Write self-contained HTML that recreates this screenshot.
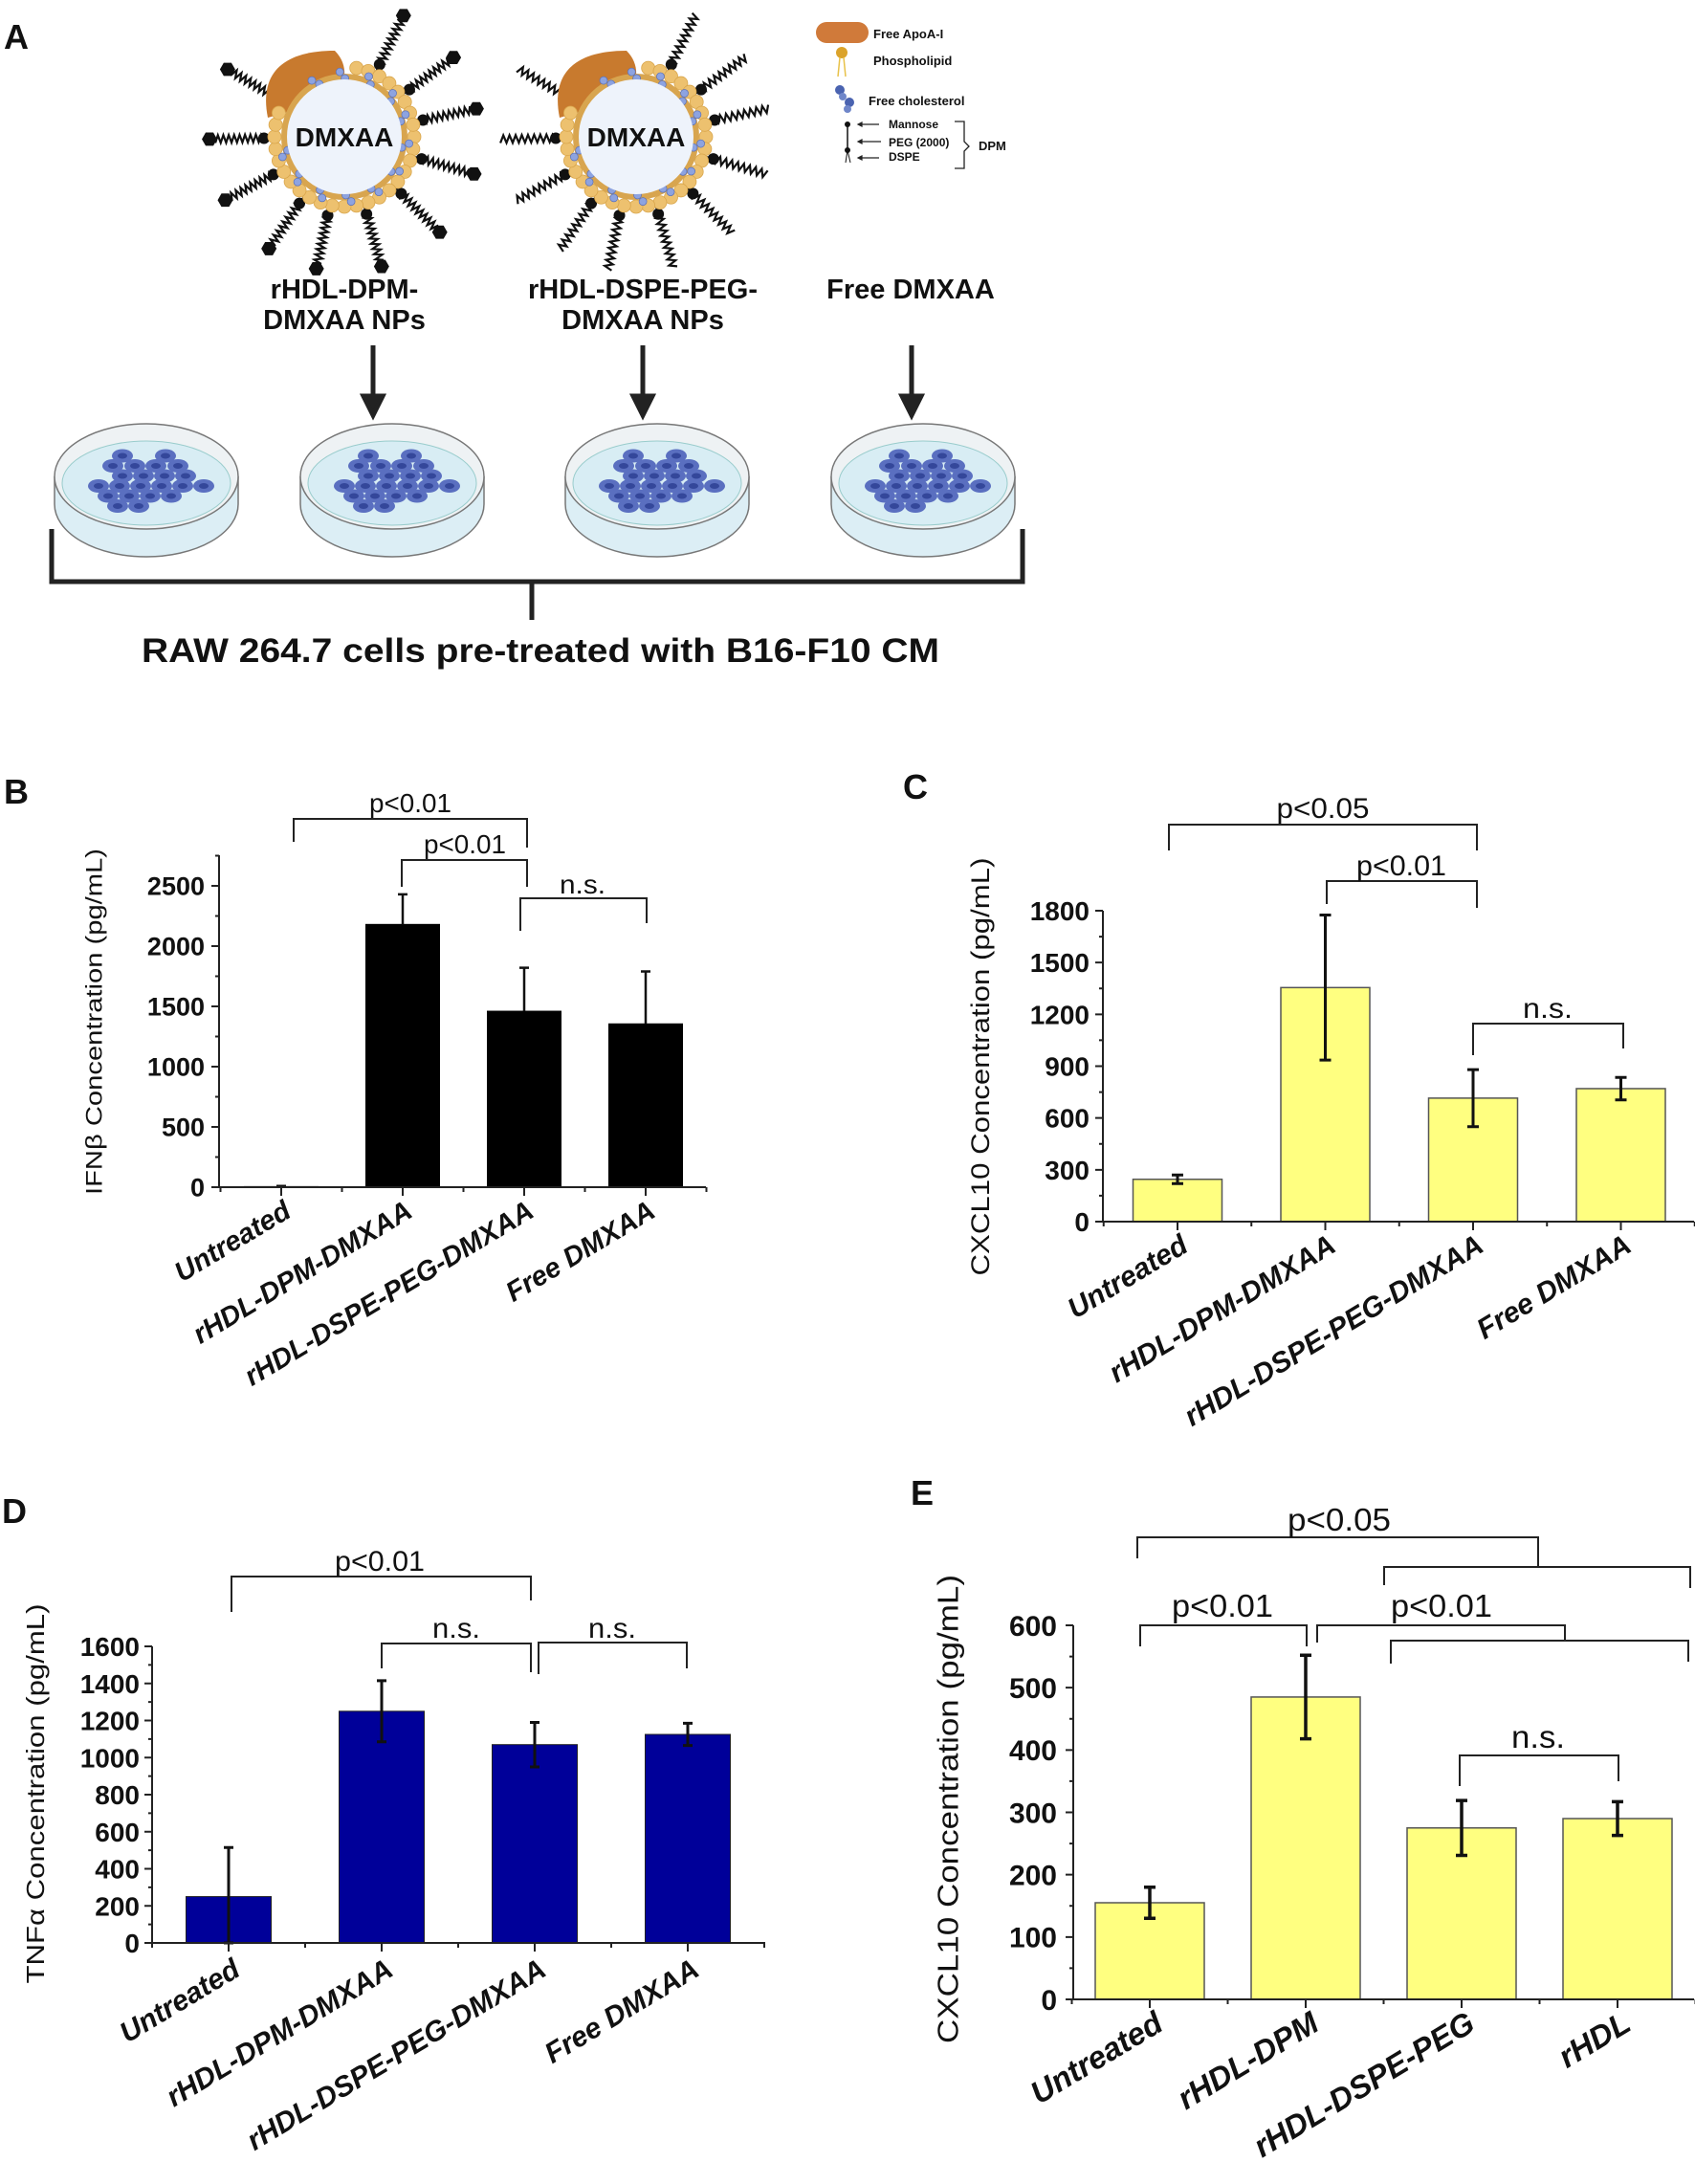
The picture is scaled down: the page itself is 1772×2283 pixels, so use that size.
<!DOCTYPE html>
<html><head><meta charset="utf-8">
<style>
html,body{margin:0;padding:0;background:#fff;}
svg{display:block;font-family:"Liberation Sans",Arial,sans-serif;}
</style></head>
<body>
<svg id="fig" width="1772" height="2283" viewBox="0 0 1772 2283" xmlns="http://www.w3.org/2000/svg">
<rect x="0" y="0" width="1772" height="2283" fill="#fff"/>
<g id="panelA">
  <text x="4" y="51" font-size="36" font-weight="bold" fill="#111">A</text>
  <g id="nps"></g>
  <text x="360" y="312" font-size="29" font-weight="bold" text-anchor="middle" fill="#111">rHDL-DPM-</text>
  <text x="360" y="344" font-size="29" font-weight="bold" text-anchor="middle" fill="#111">DMXAA NPs</text>
  <text x="672" y="312" font-size="29" font-weight="bold" text-anchor="middle" fill="#111">rHDL-DSPE-PEG-</text>
  <text x="672" y="344" font-size="29" font-weight="bold" text-anchor="middle" fill="#111">DMXAA NPs</text>
  <text x="952" y="312" font-size="29" font-weight="bold" text-anchor="middle" fill="#111">Free DMXAA</text>
  <g id="arrows"></g>
  <g id="dishes"></g>
  <path d="M54,553 V608 H1069 V553 M556,608 V648" fill="none" stroke="#222" stroke-width="5"/>
  <text x="565" y="692" font-size="35" font-weight="bold" text-anchor="middle" fill="#111" textLength="834" lengthAdjust="spacingAndGlyphs">RAW 264.7 cells pre-treated with B16-F10 CM</text>
  <g id="legendA">
    <rect x="853" y="23" width="55" height="22" rx="11" fill="#d07a3a"/>
    <text x="913" y="40" font-size="13" font-weight="bold" fill="#111">Free ApoA-I</text>
    <circle cx="880" cy="55" r="6" fill="#dba32b"/>
    <path d="M878,60 L876,80 M882,60 L884,80" stroke="#e8c24a" stroke-width="1.5" fill="none"/>
    <text x="913" y="68" font-size="13" font-weight="bold" fill="#111">Phospholipid</text>
    <circle cx="878" cy="94" r="5" fill="#4a63b0"/><circle cx="881" cy="101" r="4" fill="#6f86c9"/><circle cx="888" cy="107" r="5" fill="#4a63b0"/><circle cx="886" cy="114" r="4" fill="#6f86c9"/>
    <text x="908" y="110" font-size="13" font-weight="bold" fill="#111">Free cholesterol</text>
    <circle cx="886" cy="130" r="3" fill="#111"/><path d="M886,130 V157" stroke="#111" stroke-width="1.5"/><circle cx="886" cy="157" r="3" fill="#111"/>
    <path d="M886,157 L884,170 M886,157 L889,170" stroke="#111" stroke-width="1"/>
    <path d="M919,130 H897 M897,130 l4,-2 v4 z M921,148 H897 M897,148 l4,-2 v4 z M919,165 H897 M897,165 l4,-2 v4 z" stroke="#222" stroke-width="1.2" fill="#222"/>
    <text x="929" y="134" font-size="12" font-weight="bold" fill="#111">Mannose</text>
    <text x="929" y="153" font-size="12" font-weight="bold" fill="#111">PEG (2000)</text>
    <text x="929" y="168" font-size="12" font-weight="bold" fill="#111">DSPE</text>
    <path d="M998,127 H1008 V148 L1013,153 L1008,158 V176 H998" fill="none" stroke="#222" stroke-width="1.3"/>
    <text x="1023" y="157" font-size="13" font-weight="bold" fill="#111">DPM</text>
  </g>
</g>
<g id="charts"></g>
</svg>
<script>
// ---------- chart data ----------
const bCats=["Untreated","rHDL-DPM-DMXAA","rHDL-DSPE-PEG-DMXAA","Free DMXAA"];
const bVals=[5,2180,1460,1355];
const bErr=[5,250,360,435];
const bTicks=[0,500,1000,1500,2000,2500];

const cCats=["Untreated","rHDL-DPM-DMXAA","rHDL-DSPE-PEG-DMXAA","Free DMXAA"];
const cVals=[245,1355,715,770];
const cErr=[25,420,165,65];
const cTicks=[0,300,600,900,1200,1500,1800];

const dCats=["Untreated","rHDL-DPM-DMXAA","rHDL-DSPE-PEG-DMXAA","Free DMXAA"];
const dVals=[250,1250,1070,1125];
const dErr=[265,165,120,60];
const dTicks=[0,200,400,600,800,1000,1200,1400,1600];

const eCats=["Untreated","rHDL-DPM","rHDL-DSPE-PEG","rHDL"];
const eVals=[155,485,275,290];
const eErr=[25,67,44,27];
const eTicks=[0,100,200,300,400,500,600];

const NS="http://www.w3.org/2000/svg";
function mk(tag,attrs,parent){const e=document.createElementNS(NS,tag);for(const k in attrs)e.setAttribute(k,attrs[k]);if(parent)parent.appendChild(e);return e;}

function drawChart(o,cats,vals,errs,ticks){
  const g=mk('g',{},document.getElementById('charts'));
  
  
  const maxT=ticks[ticks.length-1];
  const y=v=>o.y0-(v/maxT)*(o.y0-o.yMaxPx);
  const x=i=>o.c0+i*o.sp;
  cats.forEach((c,i)=>{
    const r=mk('rect',{x:x(i)-o.bw/2,y:y(vals[i]),width:o.bw,height:o.y0-y(vals[i]),fill:o.fill,stroke:o.stroke,'stroke-width':o.sw},g);
    
    
  });
  cats.forEach((c,i)=>{
    const top=y(vals[i]+errs[i]);
    const bot=o.upOnly?y(vals[i]):y(Math.max(0,vals[i]-errs[i]));
    const p=mk('path',{d:`M${x(i)},${bot} V${top} M${x(i)-o.cap},${top} H${x(i)+o.cap}`+(o.upOnly?'':` M${x(i)-o.cap},${bot} H${x(i)+o.cap}`),stroke:'#111','stroke-width':o.ew,fill:'none'},g);
    
    
  });
  const ax=mk('path',{d:`M${o.x0},${o.axTop} V${o.y0} H${o.xEnd}`,stroke:'#222','stroke-width':2,fill:'none'},g);
  
  
  let td='';
  ticks.forEach(t=>{td+=`M${o.x0-8},${y(t)} H${o.x0}`;});
  const step=ticks[1]-ticks[0];
  for(let v=step/2;v<=o.axTopVal;v+=step){td+=`M${o.x0-4},${y(v)} H${o.x0}`;}
  cats.forEach((c,i)=>{td+=`M${x(i)},${o.y0} v9 M${x(i)+o.sp/2},${o.y0} v5`;});
  td+=`M${x(0)-o.sp/2},${o.y0} v5`;
  mk('path',{d:td,stroke:'#222','stroke-width':2,fill:'none'},g);
  ticks.forEach(t=>{
    const tx=mk('text',{x:o.x0-o.tgap,y:y(t)+o.tfs*0.36,'font-size':o.tfs,'font-weight':'bold','text-anchor':'end',fill:'#111'},g);
    tx.textContent=t;
    
    
  });
  cats.forEach((c,i)=>{
    const tx=mk('text',{transform:`translate(${x(i)+o.lx},${o.y0+o.ly}) rotate(-31)`,'font-size':o.lfs,'font-weight':'bold','font-style':'italic','text-anchor':'end',fill:'#111'},g);
    tx.textContent=c;
    
    
  });
  const yt=mk('text',{transform:`translate(${o.ytx},${o.yty}) rotate(-90)`,'font-size':o.ytfs,'text-anchor':'middle','dominant-baseline':'central',fill:'#111',textLength:o.ytl,lengthAdjust:'spacingAndGlyphs'},g);
  yt.textContent=o.ytitle;
  
  
  const pl=mk('text',{x:o.plx,y:o.ply,'font-size':36,'font-weight':'bold',fill:'#111'},g);
  pl.textContent=o.label;
  
  
  o.br.forEach(b=>{
    const p=mk('path',{d:b.d,stroke:'#222','stroke-width':2,fill:'none'},g);
    
    
    const t=mk('text',{x:b.tx,y:b.ty,'font-size':b.fs,'text-anchor':'middle',fill:'#111',textLength:b.tl,lengthAdjust:'spacingAndGlyphs'},g);
    t.textContent=b.t;
    
    
  });
}

drawChart({name:'chart-b-ifnb',label:'B',plx:4,ply:840,x0:229,xEnd:738,y0:1241,yMaxPx:926,axTop:894,axTopVal:2750,c0:294,sp:127,bw:77,
  fill:'#000',stroke:'#000',sw:1,upOnly:true,cap:5,ew:2.5,tfs:27,tgap:15,lfs:29,lx:12,ly:30,ytx:99,yty:1068,ytfs:24,ytl:362,
  ytitle:'IFNβ Concentration (pg/mL)',
  br:[{d:'M307,880 V856 H551 V886',t:'p<0.01',tx:429,ty:849,fs:28,tl:86},
      {d:'M420,927 V899 H551 V927',t:'p<0.01',tx:486,ty:892,fs:28,tl:86},
      {d:'M544,973 V939 H676 V965',t:'n.s.',tx:609,ty:934,fs:28,tl:48}]},bCats,bVals,bErr,bTicks);

drawChart({name:'chart-c-cxcl10',label:'C',plx:944,ply:835,x0:1153,xEnd:1771,y0:1277,yMaxPx:952,axTop:952,axTopVal:1800,c0:1231,sp:154.5,bw:93,
  fill:'#ffff80',stroke:'#555',sw:1.5,upOnly:false,cap:6,ew:3,tfs:28,tgap:14,lfs:30,lx:13,ly:30,ytx:1025,yty:1115,ytfs:27,ytl:437,
  ytitle:'CXCL10 Concentration (pg/mL)',
  br:[{d:'M1222,889 V862 H1544 V889',t:'p<0.05',tx:1383,ty:855,fs:30,tl:97},
      {d:'M1387,945 V921 H1544 V949',t:'p<0.01',tx:1465,ty:915,fs:30,tl:94},
      {d:'M1540,1103 V1070 H1697 V1096',t:'n.s.',tx:1618,ty:1064,fs:30,tl:52}]},cCats,cVals,cErr,cTicks);

drawChart({name:'chart-d-tnfa',label:'D',plx:2,ply:1592,x0:159,xEnd:800,y0:2031,yMaxPx:1721,axTop:1721,axTopVal:1600,c0:239,sp:160,bw:89,
  fill:'#000099',stroke:'#222',sw:1,upOnly:false,cap:5,ew:3,tfs:28,tgap:13,lfs:30,lx:14,ly:33,ytx:37,yty:1875,ytfs:26,ytl:397,
  ytitle:'TNFα Concentration (pg/mL)',
  br:[{d:'M242,1685 V1648 H555 V1673',t:'p<0.01',tx:397,ty:1642,fs:30,tl:94},
      {d:'M399,1744 V1718 H555 V1748',t:'n.s.',tx:477,ty:1712,fs:30,tl:50},
      {d:'M563,1750 V1717 H718 V1744',t:'n.s.',tx:640,ty:1712,fs:30,tl:50}]},dCats,dVals,dErr,dTicks);

drawChart({name:'chart-e-cxcl10',label:'E',plx:952,ply:1573,x0:1122,xEnd:1771,y0:2090,yMaxPx:1699,axTop:1699,axTopVal:600,c0:1202,sp:163,bw:114,
  fill:'#ffff80',stroke:'#555',sw:1.5,upOnly:false,cap:6,ew:3.5,tfs:30,tgap:17,lfs:33,lx:16,ly:31,ytx:991,yty:1891,ytfs:31,ytl:490,
  ytitle:'CXCL10 Concentration (pg/mL)',
  br:[{d:'M1189,1629 V1607 H1608 V1638 M1447,1657 V1638 H1767 V1660',t:'p<0.05',tx:1400,ty:1600,fs:33,tl:108},
      {d:'M1192,1721 V1699 H1366 V1721',t:'p<0.01',tx:1278,ty:1690,fs:33,tl:106},
      {d:'M1377,1717 V1699 H1636 V1715 M1454,1739 V1715 H1765 V1737',t:'p<0.01',tx:1507,ty:1690,fs:33,tl:106},
      {d:'M1526,1867 V1835 H1692 V1862',t:'n.s.',tx:1608,ty:1827,fs:33,tl:56}]},eCats,eVals,eErr,eTicks);

// ---------- schematic ----------
(function(){
  const nps=document.getElementById('nps');
  function np(cx,cy,angles,caps,name){
    const g=mk('g',{},nps);
    
    
    angles.forEach(a=>{
      const r=a*Math.PI/180, ux=Math.cos(r), uy=Math.sin(r), px=-uy, py=ux;
      const r0=84, r1=caps?135:142;
      let d=`M${cx+ux*70},${cy+uy*70} L${cx+ux*r0},${cy+uy*r0}`;
      const n=18;
      for(let k=1;k<=n;k++){const t=r0+(r1-r0)*k/n, s=(k%2?4:-4);d+=` L${cx+ux*t+px*s},${cy+uy*t+py*s}`;}
      mk('path',{d:d,stroke:'#111','stroke-width':2.2,fill:'none'},g);
      mk('circle',{cx:cx+ux*r0,cy:cy+uy*r0,r:6,fill:'#111'},g);
      if(caps){let h='';for(let k=0;k<6;k++){const q=k*Math.PI/3;h+=(k?'L':'M')+(cx+ux*(r1+6)+8*Math.cos(q))+','+(cy+uy*(r1+6)+8*Math.sin(q));}mk('path',{d:h+'Z',fill:'#111'},g);}
    });
    mk('path',{d:`M${cx-80},${cy-20} C${cx-90},${cy-70} ${cx-60},${cy-90} ${cx-10},${cy-90} C${cx+5},${cy-75} ${cx+2},${cy-55} ${cx-10},${cy-40} Z`,fill:'#c87a2e'},g);
    for(let k=0;k<36;k++){const q=k*10*Math.PI/180;if(k>=21&&k<=27)continue;mk('circle',{cx:cx+73*Math.cos(q),cy:cy+73*Math.sin(q),r:7,fill:'#edc16f',stroke:'#d9a64c','stroke-width':0.8},g);}
    mk('circle',{cx:cx,cy:cy,r:66,fill:'#d8a54f'},g);
    for(let k=0;k<14;k++){const q=(k*26-20)*Math.PI/180;if(k>=8&&k<=9)continue;mk('circle',{cx:cx+68*Math.cos(q),cy:cy+68*Math.sin(q),r:4,fill:'#8da3e0',stroke:'#5a70b8','stroke-width':0.7},g);mk('circle',{cx:cx+61*Math.cos(q+0.08),cy:cy+61*Math.sin(q+0.08),r:4,fill:'#8da3e0',stroke:'#5a70b8','stroke-width':0.7},g);}
    mk('circle',{cx:cx,cy:cy,r:60,fill:'#eef3fb'},g);
    const t=mk('text',{x:cx,y:cy+10,'font-size':28,'font-weight':'bold','text-anchor':'middle',fill:'#111'},g);
    t.textContent='DMXAA';
  }
  np(360,143,[-64,-36,-12,16,45,74,102,124,152,179,-150],true,'np-rhdl-dpm');
  np(665,143,[-64,-36,-12,16,45,74,102,124,152,179,-150],false,'np-rhdl-dspe-peg');

  const ar=document.getElementById('arrows');
  [390,672,953].forEach((x,i)=>{
    const p=mk('path',{d:`M${x},361 V418 M${x-10},414 L${x+10},414 L${x},434 Z`,stroke:'#222','stroke-width':5,fill:'#222'},ar);
    
    
  });

  const ds=document.getElementById('dishes');
  [153,410,687,965].forEach((cx,i)=>{
    const g=mk('g',{},ds);
    
    
    mk('path',{d:`M${cx-96},498 V527 A96,55 0 0 0 ${cx+96},527 V498`,fill:'#dceef5',stroke:'#777','stroke-width':1.5},g);
    mk('ellipse',{cx:cx,cy:498,rx:96,ry:55,fill:'#eef2f4',stroke:'#777','stroke-width':1.5},g);
    mk('ellipse',{cx:cx,cy:505,rx:88,ry:44,fill:'#d8edf4',stroke:'#9cc','stroke-width':1},g);
    const cells=[[-25,-10],[20,-10],[-35,0],[-12,0],[10,0],[33,0],[-25,10],[-3,10],[19,10],[41,10],[-50,20],[-28,20],[-6,20],[16,20],[38,20],[60,20],[-40,30],[-18,30],[4,30],[26,30],[-30,40],[-8,40]];
    cells.forEach(c=>{mk('ellipse',{cx:cx+c[0],cy:487+c[1]*1.05,rx:11,ry:7,fill:'#5a6fc0'},g);mk('ellipse',{cx:cx+c[0],cy:487+c[1]*1.05,rx:5,ry:3,fill:'#34479a'},g);});
  });
})();
</script>
</body></html>
